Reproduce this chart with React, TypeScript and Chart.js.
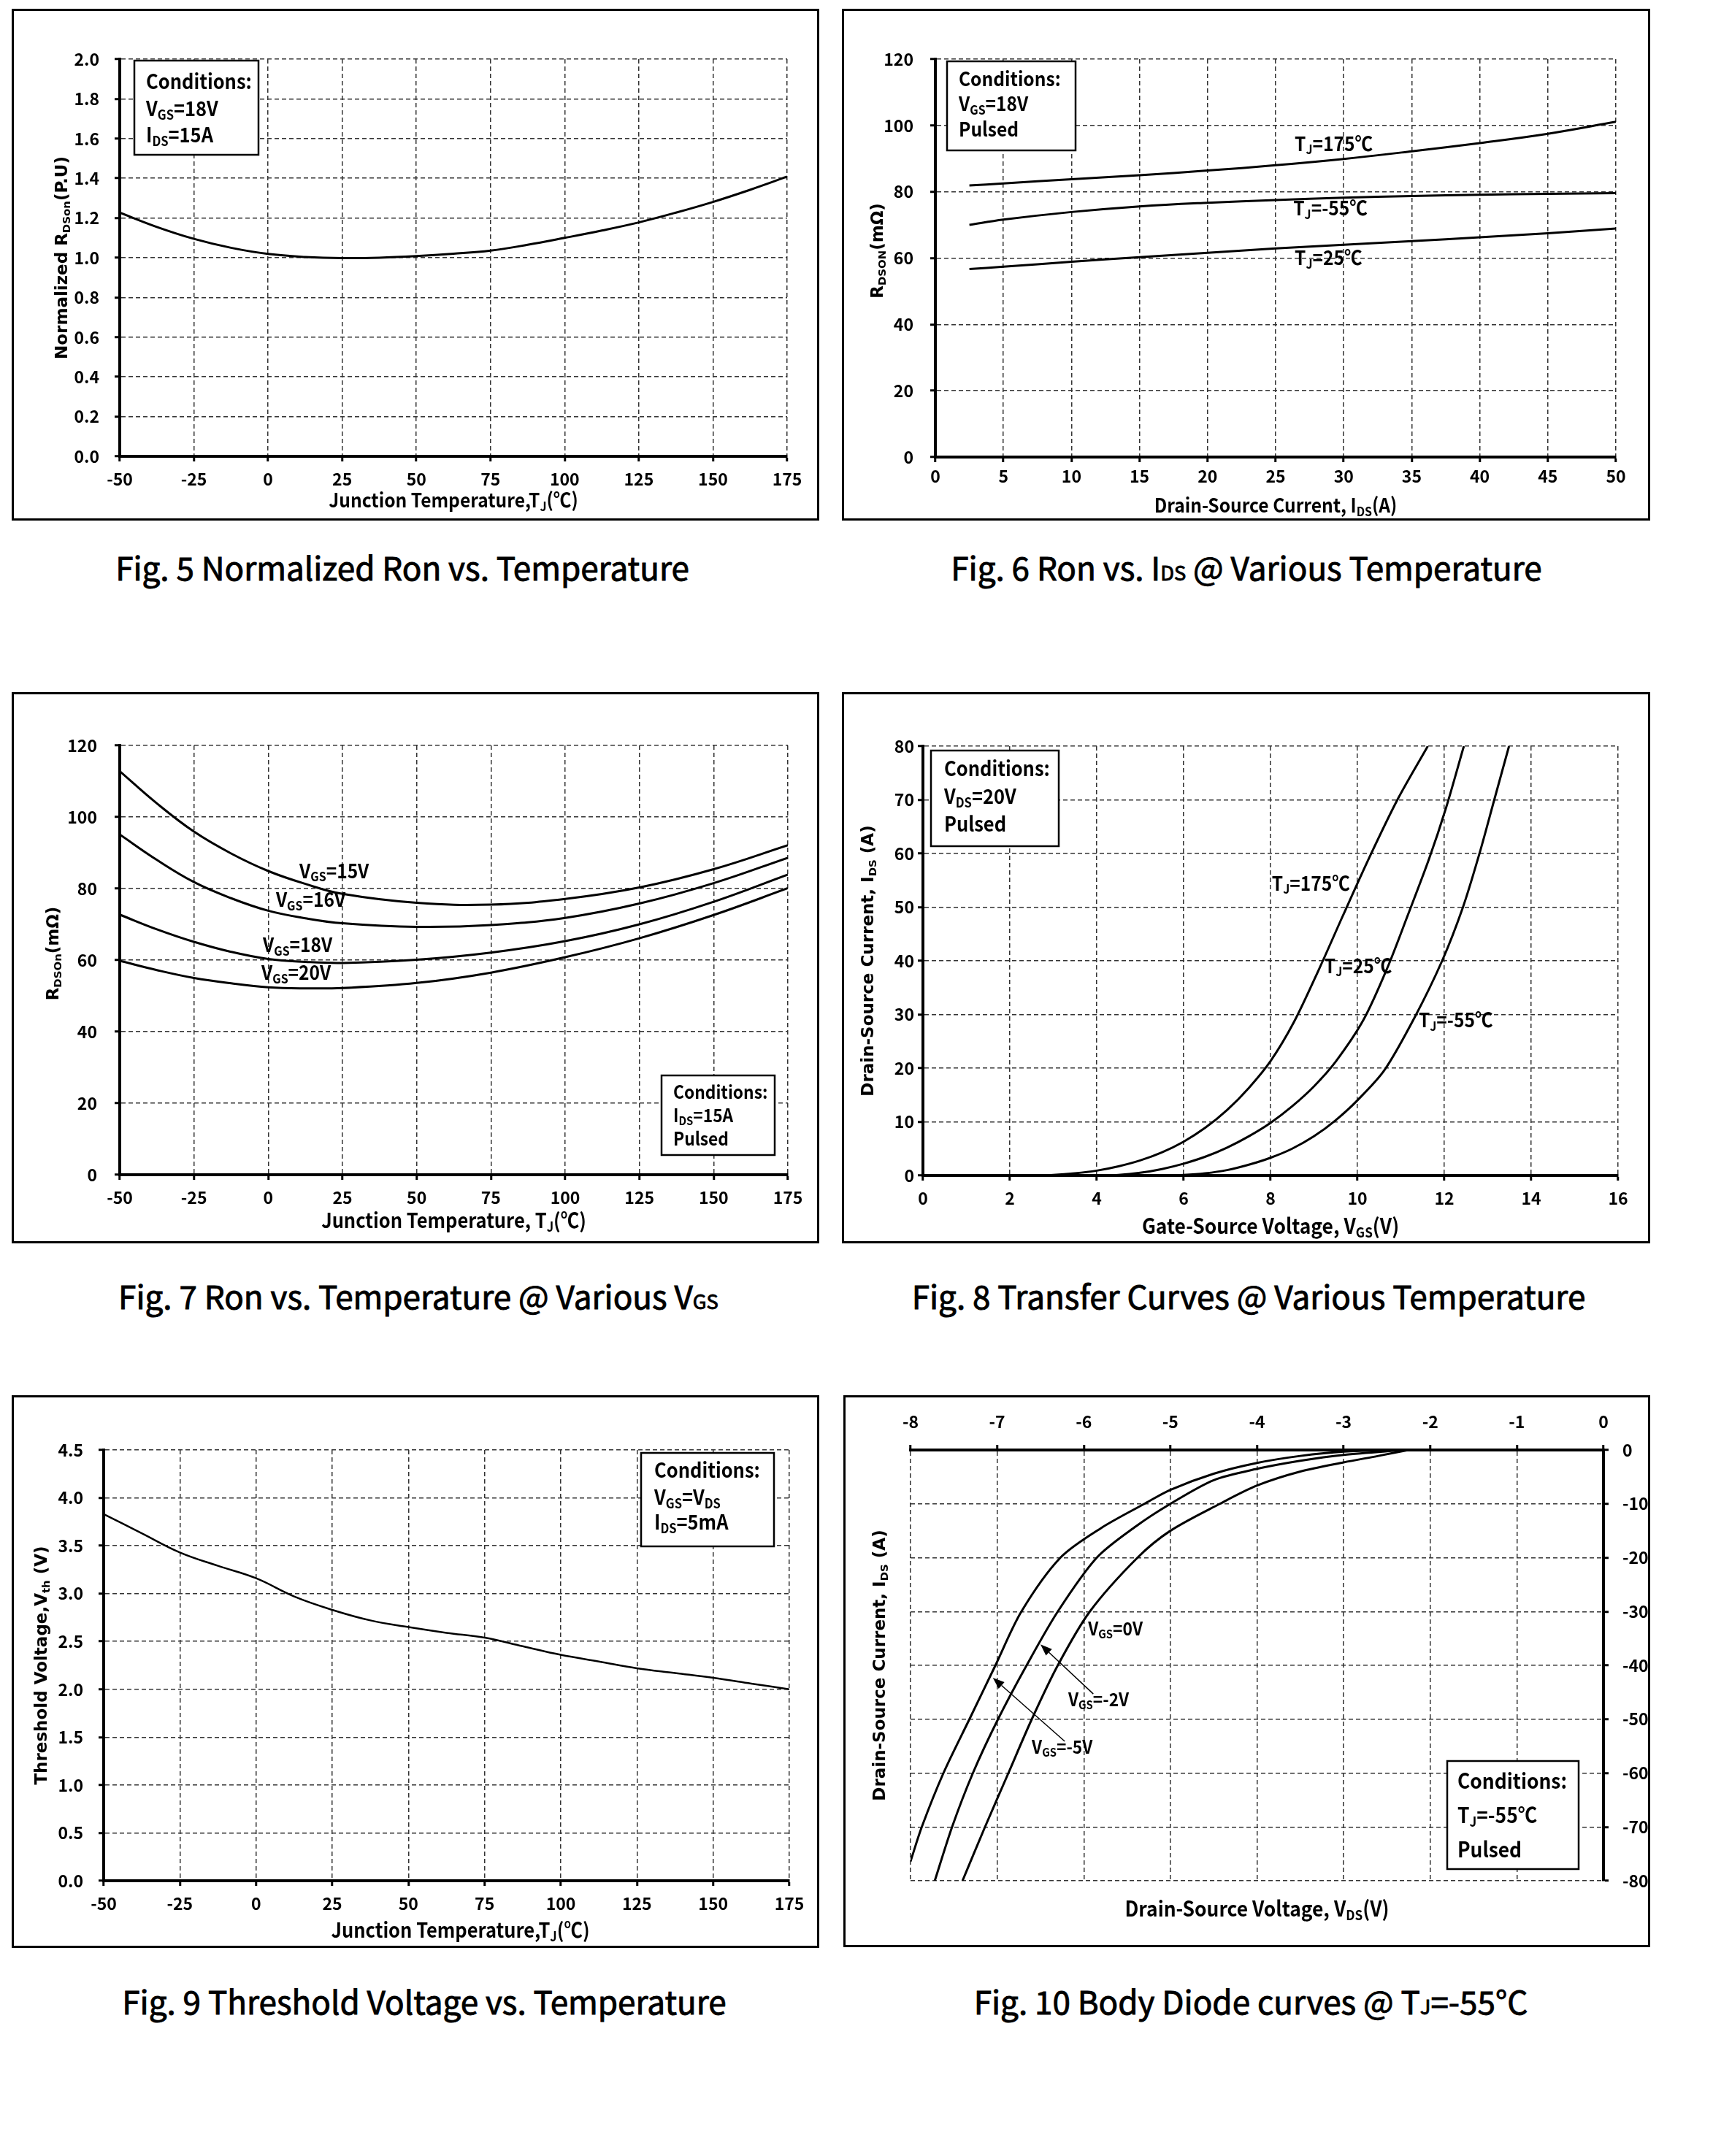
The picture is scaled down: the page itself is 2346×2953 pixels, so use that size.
import React, { useEffect, useRef } from 'react';
import { Chart, registerables } from 'chart.js';

Chart.register(...registerables);

const NARROW = "'Noto Sans CJK SC', 'Liberation Sans', Arial, sans-serif";
const WIDE = "'DejaVu Sans', Verdana, sans-serif";
const CAPTION_FONT = "'Noto Sans CJK SC', 'Noto Sans', sans-serif";
const CONDENSE = 0.91;

// ---------------- data ----------------
// Fig 5: normalized Ron vs temperature
const fig5Temp = [-50, -37.5, -25, -12.5, 0, 12.5, 25, 37.5, 50, 62.5, 75, 87.5, 100, 112.5, 125, 137.5, 150, 162.5, 175];
const fig5Rnorm = [1.227, 1.155, 1.095, 1.05, 1.019, 1.004, 0.998, 1.0, 1.008, 1.02, 1.036, 1.065, 1.1, 1.137, 1.178, 1.227, 1.281, 1.342, 1.408];

// Fig 6: Ron vs Ids
const fig6Ids = [2.5, 5, 10, 15, 20, 25, 30, 35, 40, 45, 50];
const fig6R175 = [81.9, 82.5, 83.8, 85.0, 86.4, 88.0, 89.9, 92.2, 94.7, 97.5, 101.1];
const fig6Rm55 = [70.0, 71.6, 73.9, 75.6, 76.7, 77.5, 78.2, 78.7, 79.1, 79.4, 79.6];
const fig6R25 = [56.7, 57.4, 58.9, 60.3, 61.6, 62.9, 64.0, 65.1, 66.3, 67.5, 68.9];

// Fig 7: Ron vs temperature at various Vgs
const fig7Temp = [-50, -37.5, -25, -12.5, 0, 12.5, 25, 50, 75, 100, 125, 150, 175];
const fig7R15 = [112.8, 103.8, 95.9, 89.8, 84.9, 81.3, 78.5, 76.0, 75.5, 77.1, 80.3, 85.4, 92.1];
const fig7R16 = [95.1, 88.0, 81.8, 77.3, 73.8, 71.7, 70.3, 69.3, 69.8, 71.8, 75.8, 81.5, 88.6];
const fig7R18 = [72.7, 68.6, 65.1, 62.3, 60.3, 59.5, 59.2, 60.1, 62.1, 65.3, 70.0, 76.3, 83.9];
const fig7R20 = [59.8, 57.2, 55.0, 53.5, 52.4, 52.1, 52.2, 53.6, 56.5, 60.8, 66.1, 72.6, 80.1];

// Fig 8: transfer curves
const fig8V175 = [2.5, 3, 3.5, 4, 4.5, 5, 5.5, 6, 6.5, 7.0, 7.5, 8.0, 8.54, 9.12, 9.66, 10.26, 10.92, 11.62];
const fig8I175 = [0, 0.1, 0.4, 0.9, 1.7, 2.8, 4.3, 6.3, 8.9, 12.2, 16.3, 21.3, 28.6, 38.5, 48.3, 59.0, 70.0, 80];
const fig8V25 = [4, 4.5, 5, 5.5, 6, 6.5, 7, 7.5, 8.0, 8.5, 9.0, 9.5, 10.14, 10.68, 11.16, 11.65, 12.04, 12.45];
const fig8I25 = [0, 0.1, 0.5, 1.2, 2.2, 3.5, 5.2, 7.3, 9.8, 12.9, 16.6, 21.2, 29.0, 38.5, 48.5, 59.0, 68.5, 80];
const fig8Vm55 = [5.5, 6, 6.5, 7, 7.5, 8, 8.5, 9, 9.5, 10.0, 10.62, 11.32, 11.95, 12.43, 12.81, 13.15, 13.49];
const fig8Im55 = [0, 0.1, 0.4, 1.0, 2.0, 3.3, 5.0, 7.3, 10.3, 14.0, 19.6, 29.5, 40, 50, 60, 70, 80];

// Fig 9: threshold voltage vs temperature
const fig9Temp = [-50, -37.5, -25, -12.5, 0, 12.5, 25, 37.5, 50, 62.5, 75, 87.5, 100, 112.5, 125, 137.5, 150, 162.5, 175];
const fig9Vth = [3.83, 3.63, 3.43, 3.29, 3.16, 2.97, 2.83, 2.72, 2.65, 2.59, 2.54, 2.45, 2.36, 2.29, 2.22, 2.17, 2.12, 2.06, 2.0];

// Fig 10: body diode curves
const fig10Vm5 = [-8.0, -7.87, -7.62, -7.32, -7.02, -6.72, -6.27, -5.8, -5.3, -5.0, -4.5, -4.0, -3.5, -3.0, -2.3];
const fig10Im5 = [-76.4, -70, -60, -50, -40, -30, -20, -14.5, -10, -7.4, -4.4, -2.4, -1.1, -0.3, 0];
const fig10Vm2 = [-7.72, -7.52, -7.28, -6.99, -6.66, -6.3, -5.85, -5.4, -5.0, -4.5, -4.0, -3.5, -3.0, -2.3];
const fig10Im2 = [-80, -70, -60, -50, -40, -30, -20, -14.2, -10, -5.6, -3.5, -2.0, -0.9, 0];
const fig10V0 = [-7.4, -7.14, -6.87, -6.6, -6.3, -5.93, -5.38, -5.0, -4.43, -4.0, -3.5, -3.0, -2.6, -2.25];
const fig10I0 = [-80, -70, -60, -50, -40, -30, -20, -15, -10, -6.6, -4.0, -2.3, -1.1, 0];

// ---------------- helpers ----------------
type Seg = [string, boolean?];
type Rect = { l: number; t: number; r: number; b: number };
type AxisSpec = { min: number; max: number; step: number; pos: string; pad: number; fixed?: number; size: number };

interface Spec {
  panel: Rect;
  plot: Rect;
  x: AxisSpec;
  y: AxisSpec;
  series: { xs: number[]; ys: number[]; width?: number }[];
  tension: number;
  yTitle: { segs: Seg[]; dx: number; dy?: number; size: number };
  xTitle: { segs: Seg[]; dy: number; dx?: number; size: number };
  box: { x: number; y: number; w: number; h: number; tx: number; dys: number[]; size: number; lines: Seg[][] };
  labels: { segs: Seg[]; x: number; y: number }[];
  labelSize: number;
  arrows?: { x1: number; y1: number; x2: number; y2: number }[];
}

function fontStr(size: number, family: string) {
  return `bold ${size}px ${family}`;
}

function drawRich(
  ctx: CanvasRenderingContext2D,
  segs: Seg[],
  x: number,
  y: number,
  size: number,
  family: string,
  align: 'left' | 'center',
  k: number
) {
  const sub = size * 0.65;
  const widths = segs.map(([t, s]) => {
    ctx.font = fontStr(s ? sub : size, family);
    return ctx.measureText(t).width;
  });
  const total = widths.reduce((a, b) => a + b, 0) * k;
  const start = align === 'center' ? x - total / 2 : x;
  ctx.save();
  ctx.translate(start, y);
  ctx.scale(k, 1);
  ctx.textAlign = 'left';
  ctx.textBaseline = 'alphabetic';
  let cx = 0;
  segs.forEach(([t, s], i) => {
    ctx.font = fontStr(s ? sub : size, family);
    ctx.fillText(t, cx, s ? size * 0.17 : 0);
    cx += widths[i];
  });
  ctx.restore();
}

function makeAnno(s: Spec) {
  return {
    id: 'anno',
    afterDraw(chart: any) {
      const ctx: CanvasRenderingContext2D = chart.ctx;
      const ca = chart.chartArea;
      const xs = chart.scales.x;
      const ys = chart.scales.y;
      ctx.save();
      ctx.fillStyle = '#000';
      // y title
      ctx.save();
      ctx.translate(ca.left + s.yTitle.dx, (ca.top + ca.bottom) / 2 + (s.yTitle.dy || 0));
      ctx.rotate(-Math.PI / 2);
      drawRich(ctx, s.yTitle.segs, 0, s.yTitle.size * 0.36, s.yTitle.size, WIDE, 'center', 1);
      ctx.restore();
      // x title
      drawRich(ctx, s.xTitle.segs, (ca.left + ca.right) / 2 + (s.xTitle.dx || 0), ca.bottom + s.xTitle.dy, s.xTitle.size, NARROW, 'center', CONDENSE);
      // conditions box
      const b = s.box;
      const bx = ca.left + b.x;
      const by = ca.top + b.y;
      ctx.fillStyle = '#fff';
      ctx.fillRect(bx, by, b.w, b.h);
      ctx.strokeStyle = '#000';
      ctx.lineWidth = 2.5;
      ctx.setLineDash([]);
      ctx.strokeRect(bx, by, b.w, b.h);
      ctx.fillStyle = '#000';
      b.lines.forEach((ln, i) => drawRich(ctx, ln, bx + b.tx, by + b.dys[i], b.size, NARROW, 'left', CONDENSE));
      // curve labels
      s.labels.forEach((lb) =>
        drawRich(ctx, lb.segs, xs.getPixelForValue(lb.x), ys.getPixelForValue(lb.y), s.labelSize, NARROW, 'left', CONDENSE)
      );
      // arrows
      (s.arrows || []).forEach((a) => {
        const x1 = xs.getPixelForValue(a.x1), y1 = ys.getPixelForValue(a.y1);
        const x2 = xs.getPixelForValue(a.x2), y2 = ys.getPixelForValue(a.y2);
        ctx.strokeStyle = '#000';
        ctx.lineWidth = 1.5;
        const ang = Math.atan2(y2 - y1, x2 - x1);
        const hl = 16, hw = 6;
        const bxp = x2 - hl * Math.cos(ang), byp = y2 - hl * Math.sin(ang);
        ctx.beginPath();
        ctx.moveTo(x1, y1);
        ctx.lineTo(bxp, byp);
        ctx.stroke();
        ctx.beginPath();
        ctx.moveTo(x2, y2);
        ctx.lineTo(bxp + hw * Math.sin(ang), byp - hw * Math.cos(ang));
        ctx.lineTo(bxp - hw * Math.sin(ang), byp + hw * Math.cos(ang));
        ctx.closePath();
        ctx.fill();
      });
      ctx.restore();
    },
  };
}

function scaleOpts(a: AxisSpec, horizontal: boolean) {
  return {
    type: 'linear' as const,
    position: a.pos,
    min: a.min,
    max: a.max,
    grid: {
      color: '#333',
      lineWidth: 1.5,
      drawTicks: true,
      tickLength: 7,
      tickColor: '#000',
      tickWidth: 3,
      tickBorderDash: [],
    },
    border: { display: true, color: '#000', width: 4, dash: [6, 4] },
    ticks: {
      color: '#000',
      font: { family: NARROW, size: 23, weight: 'bold' as const },
      padding: a.pad,
      stepSize: a.step,
      autoSkip: false,
      maxRotation: 0,
      callback: (v: any) => (a.fixed !== undefined ? Number(v).toFixed(a.fixed) : String(Math.round(Number(v) * 100) / 100)),
    },
    afterFit: (sc: any) => {
      if (horizontal) sc.height = a.size;
      else sc.width = a.size;
    },
  };
}

function buildChart(canvas: HTMLCanvasElement, s: Spec) {
  const W = s.panel.r - s.panel.l;
  const H = s.panel.b - s.panel.t;
  const cl = s.plot.l - s.panel.l;
  const ct = s.plot.t - s.panel.t;
  const cr = s.plot.r - s.panel.l;
  const cb = s.plot.b - s.panel.t;
  const padding = {
    left: s.y.pos === 'left' ? cl - s.y.size : cl,
    right: s.y.pos === 'right' ? W - cr - s.y.size : W - cr,
    top: s.x.pos === 'top' ? ct - s.x.size : ct,
    bottom: s.x.pos === 'bottom' ? H - cb - s.x.size : H - cb,
  };
  return new Chart(canvas, {
    type: 'line',
    data: {
      datasets: s.series.map((se) => ({
        data: se.xs.map((x, i) => ({ x, y: se.ys[i] })),
        borderColor: '#000',
        borderWidth: se.width || 3,
        pointRadius: 0,
        fill: false,
        tension: s.tension,
      })),
    },
    options: {
      responsive: false,
      animation: false,
      devicePixelRatio: 1,
      events: [],
      layout: { padding },
      plugins: { legend: { display: false }, tooltip: { enabled: false } },
      scales: {
        x: scaleOpts(s.x, true) as any,
        y: scaleOpts(s.y, false) as any,
      },
    },
    plugins: [makeAnno(s)],
  });
}

// ---------------- chart specs ----------------
const tempTitle: Seg[] = [['Junction Temperature,T'], ['J', true], ['(℃)']];

const specs: Spec[] = [
  {
    panel: { l: 16, t: 12, r: 1122, b: 713 },
    plot: { l: 164, t: 81, r: 1078, b: 625 },
    x: { min: -50, max: 175, step: 25, pos: 'bottom', pad: 10, size: 50 },
    y: { min: 0, max: 2, step: 0.2, pos: 'left', pad: 21, fixed: 1, size: 100 },
    series: [{ xs: fig5Temp, ys: fig5Rnorm }],
    tension: 0.4,
    yTitle: { segs: [['Normalized R'], ['DSon', true], ['(P.U)']], dx: -80, size: 23 },
    xTitle: { segs: tempTitle, dy: 70, size: 27 },
    box: { x: 20, y: 2, w: 170, h: 129, tx: 16, dys: [39, 76, 112], size: 28, lines: [[['Conditions:']], [['V'], ['GS', true], ['=18V']], [['I'], ['DS', true], ['=15A']]] },
    labels: [],
    labelSize: 26,
  },
  {
    panel: { l: 1153, t: 12, r: 2260, b: 713 },
    plot: { l: 1281, t: 81, r: 2213, b: 626 },
    x: { min: 0, max: 50, step: 5, pos: 'bottom', pad: 5, size: 50 },
    y: { min: 0, max: 120, step: 20, pos: 'left', pad: 23, size: 100 },
    series: [
      { xs: fig6Ids, ys: fig6R175 },
      { xs: fig6Ids, ys: fig6Rm55 },
      { xs: fig6Ids, ys: fig6R25 },
    ],
    tension: 0.4,
    yTitle: { segs: [['R'], ['DSON', true], ['(mΩ)']], dx: -80, dy: -10, size: 23 },
    xTitle: { segs: [['Drain-Source Current, I'], ['DS', true], ['(A)']], dy: 76, size: 27 },
    box: { x: 16, y: 3, w: 176, h: 122, tx: 16, dys: [34, 68, 103], size: 27, lines: [[['Conditions:']], [['V'], ['GS', true], ['=18V']], [['Pulsed']]] },
    labels: [
      { segs: [['T'], ['J', true], ['=175℃']], x: 26.4, y: 92.3 },
      { segs: [['T'], ['J', true], ['=-55℃']], x: 26.3, y: 72.9 },
      { segs: [['T'], ['J', true], ['=25℃']], x: 26.4, y: 57.9 },
    ],
    labelSize: 27,
  },
  {
    panel: { l: 16, t: 948, r: 1122, b: 1703 },
    plot: { l: 164, t: 1021, r: 1079, b: 1609 },
    x: { min: -50, max: 175, step: 25, pos: 'bottom', pad: 10, size: 50 },
    y: { min: 0, max: 120, step: 20, pos: 'left', pad: 24, size: 100 },
    series: [
      { xs: fig7Temp, ys: fig7R15 },
      { xs: fig7Temp, ys: fig7R16 },
      { xs: fig7Temp, ys: fig7R18 },
      { xs: fig7Temp, ys: fig7R20 },
    ],
    tension: 0.4,
    yTitle: { segs: [['R'], ['DSOn', true], ['(mΩ)']], dx: -92, dy: -9, size: 23 },
    xTitle: { segs: [['Junction Temperature, T'], ['J', true], ['(℃)']], dy: 73, size: 28 },
    box: { x: 742, y: 452, w: 155, h: 109, tx: 16, dys: [32, 64, 96], size: 25, lines: [[['Conditions:']], [['I'], ['DS', true], ['=15A']], [['Pulsed']]] },
    labels: [
      { segs: [['V'], ['GS', true], ['=15V']], x: 10.5, y: 82.9 },
      { segs: [['V'], ['GS', true], ['=16V']], x: 2.6, y: 74.9 },
      { segs: [['V'], ['GS', true], ['=18V']], x: -1.8, y: 62.2 },
      { segs: [['V'], ['GS', true], ['=20V']], x: -2.3, y: 54.5 },
    ],
    labelSize: 27,
  },
  {
    panel: { l: 1153, t: 948, r: 2260, b: 1703 },
    plot: { l: 1264, t: 1022, r: 2216, b: 1610 },
    x: { min: 0, max: 16, step: 2, pos: 'bottom', pad: 10, size: 50 },
    y: { min: 0, max: 80, step: 10, pos: 'left', pad: 5, size: 100 },
    series: [
      { xs: fig8V175, ys: fig8I175 },
      { xs: fig8V25, ys: fig8I25 },
      { xs: fig8Vm55, ys: fig8Im55 },
    ],
    tension: 0.3,
    yTitle: { segs: [['Drain-Source Current, I'], ['DS', true], [' (A)']], dx: -76, size: 23 },
    xTitle: { segs: [['Gate-Source Voltage, V'], ['GS', true], ['(V)']], dy: 80, size: 29 },
    box: { x: 11, y: 6, w: 175, h: 131, tx: 18, dys: [35, 73, 111], size: 28, lines: [[['Conditions:']], [['V'], ['DS', true], ['=20V']], [['Pulsed']]] },
    labels: [
      { segs: [['T'], ['J', true], ['=175℃']], x: 8.03, y: 53.1 },
      { segs: [['T'], ['J', true], ['=25℃']], x: 9.24, y: 37.7 },
      { segs: [['T'], ['J', true], ['=-55℃']], x: 11.41, y: 27.6 },
    ],
    labelSize: 27,
  },
  {
    panel: { l: 16, t: 1911, r: 1122, b: 2668 },
    plot: { l: 142, t: 1986, r: 1081, b: 2576 },
    x: { min: -50, max: 175, step: 25, pos: 'bottom', pad: 10, size: 50 },
    y: { min: 0, max: 4.5, step: 0.5, pos: 'left', pad: 21, fixed: 1, size: 100 },
    series: [{ xs: fig9Temp, ys: fig9Vth, width: 2.5 }],
    tension: 0.4,
    yTitle: { segs: [['Threshold Voltage,V'], ['th', true], [' (V)']], dx: -86, size: 23 },
    xTitle: { segs: tempTitle, dy: 78, dx: 19, size: 28 },
    box: { x: 736, y: 4, w: 182, h: 128, tx: 18, dys: [34, 71, 105], size: 28, lines: [[['Conditions:']], [['V'], ['GS', true], ['=V'], ['DS', true]], [['I'], ['DS', true], ['=5mA']]] },
    labels: [],
    labelSize: 26,
  },
  {
    panel: { l: 1155, t: 1911, r: 2260, b: 2667 },
    plot: { l: 1247, t: 1986, r: 2196, b: 2576 },
    x: { min: -8, max: 0, step: 1, pos: 'top', pad: 18, size: 60 },
    y: { min: -80, max: 0, step: 10, pos: 'right', pad: 19, size: 64 },
    series: [
      { xs: fig10Vm5, ys: fig10Im5 },
      { xs: fig10Vm2, ys: fig10Im2 },
      { xs: fig10V0, ys: fig10I0 },
    ],
    tension: 0.3,
    yTitle: { segs: [['Drain-Source Current, I'], ['DS', true], [' (A)']], dx: -43, size: 23 },
    xTitle: { segs: [['Drain-Source Voltage, V'], ['DS', true], ['(V)']], dy: 49, size: 29 },
    box: { x: 735, y: 426, w: 180, h: 148, tx: 14, dys: [38, 85, 132], size: 29, lines: [[['Conditions:']], [['T'], ['J', true], ['=-55℃']], [['Pulsed']]] },
    labels: [
      { segs: [['V'], ['GS', true], ['=0V']], x: -5.95, y: -34.4 },
      { segs: [['V'], ['GS', true], ['=-2V']], x: -6.18, y: -47.6 },
      { segs: [['V'], ['GS', true], ['=-5V']], x: -6.6, y: -56.4 },
    ],
    labelSize: 25,
    arrows: [
      { x1: -5.89, y1: -45.3, x2: -6.5, y2: -36.1 },
      { x1: -6.22, y1: -54.1, x2: -7.05, y2: -42.3 },
    ],
  },
];

const small = { fontSize: '0.62em' };
const captions: { cx: number; base: number; content: React.ReactNode }[] = [
  { cx: 551, base: 794, content: <>Fig. 5 Normalized Ron vs. Temperature</> },
  { cx: 1707, base: 794, content: <>Fig. 6 Ron vs. I<span style={small}>DS</span> @ Various Temperature</> },
  { cx: 573, base: 1792, content: <>Fig. 7 Ron vs. Temperature @ Various V<span style={small}>GS</span></> },
  { cx: 1710, base: 1792, content: <>Fig. 8 Transfer Curves @ Various Temperature</> },
  { cx: 581, base: 2758, content: <>Fig. 9 Threshold Voltage vs. Temperature</> },
  { cx: 1713, base: 2758, content: <>Fig. 10 Body Diode curves @ T<span style={small}>J</span>=-55°C</> },
];

function Panel({ spec }: { spec: Spec }) {
  const ref = useRef<HTMLCanvasElement>(null);
  useEffect(() => {
    if (!ref.current) return;
    const ch = buildChart(ref.current, spec);
    return () => ch.destroy();
  }, [spec]);
  const { l, t, r, b } = spec.panel;
  return (
    <>
      <div style={{ position: 'absolute', left: l, top: t, width: r - l, height: b - t, border: '3px solid #000', boxSizing: 'border-box' }} />
      <canvas ref={ref} width={r - l} height={b - t} style={{ position: 'absolute', left: l, top: t, width: r - l, height: b - t }} />
    </>
  );
}

export default function App() {
  return (
    <div style={{ position: 'absolute', left: 0, top: 0, width: 2346, height: 2953, background: '#fff', overflow: 'hidden' }}>
      {specs.map((s, i) => (
        <Panel key={i} spec={s} />
      ))}
      {captions.map((c, i) => (
        <div
          key={'c' + i}
          style={{
            position: 'absolute',
            left: c.cx - 700,
            width: 1400,
            top: c.base - 40,
            fontFamily: CAPTION_FONT,
            fontSize: 44,
            lineHeight: '44px',
            textAlign: 'center',
            color: '#000',
            whiteSpace: 'nowrap',
            WebkitTextStroke: '0.9px #000',
          }}
        >
          {c.content}
        </div>
      ))}
    </div>
  );
}
